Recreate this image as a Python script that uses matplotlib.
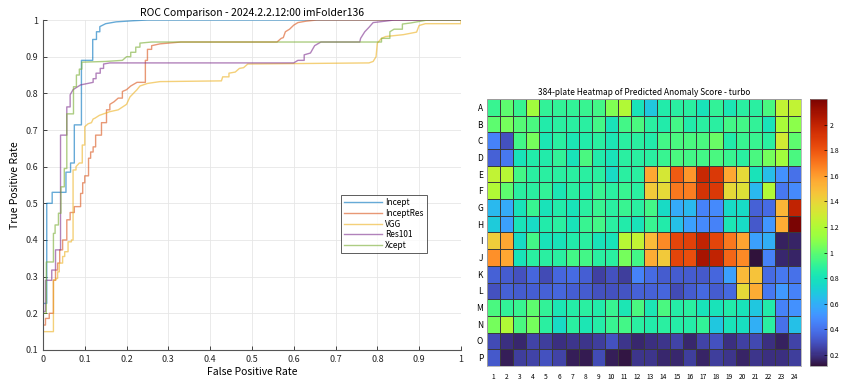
import numpy as np
import matplotlib.pyplot as plt

plt.rcParams['font.family'] = ['Noto Sans CJK JP', 'DejaVu Sans']

# ROC curves (fpr, tpr) per model
incept_fpr = [0, 0, 0.009, 0.009, 0.022, 0.022, 0.055, 0.055, 0.066, 0.066, 0.075, 0.075, 0.092, 0.092,
              0.11, 0.119, 0.119, 0.128, 0.128, 0.136, 0.136, 0.15, 0.175, 0.215, 0.25, 1]
incept_tpr = [0, 0.227, 0.227, 0.5, 0.5, 0.53, 0.53, 0.585, 0.585, 0.61, 0.61, 0.714, 0.714, 0.89,
              0.89, 0.89, 0.947, 0.947, 0.968, 0.968, 0.982, 0.99, 0.995, 0.998, 1, 1]

inceptres_fpr = [0, 0, 0.006, 0.006, 0.015, 0.015, 0.025, 0.025, 0.03, 0.03, 0.035, 0.035, 0.04, 0.04,
                 0.047, 0.047, 0.057, 0.057, 0.065, 0.065, 0.075, 0.075, 0.09, 0.09, 0.095, 0.095, 0.1, 0.1,
                 0.109, 0.109, 0.114, 0.114, 0.12, 0.12, 0.126, 0.126, 0.14, 0.14, 0.152, 0.152, 0.16, 0.16,
                 0.17, 0.18, 0.19, 0.19, 0.2, 0.21, 0.225, 0.245, 0.245, 0.25, 0.25, 0.26, 0.26, 0.28, 0.33,
                 0.56, 0.57, 0.575, 0.58, 0.59, 0.6, 0.61, 0.63, 0.655, 1]
inceptres_tpr = [0, 0.168, 0.168, 0.186, 0.186, 0.2, 0.2, 0.29, 0.29, 0.318, 0.318, 0.337, 0.337, 0.373,
                 0.373, 0.4, 0.4, 0.455, 0.455, 0.475, 0.475, 0.491, 0.491, 0.527, 0.527, 0.556, 0.556, 0.575,
                 0.575, 0.623, 0.623, 0.64, 0.64, 0.654, 0.654, 0.686, 0.686, 0.72, 0.72, 0.755, 0.755, 0.77,
                 0.777, 0.787, 0.787, 0.805, 0.81, 0.82, 0.83, 0.83, 0.89, 0.89, 0.92, 0.92, 0.93, 0.935, 0.94,
                 0.94, 0.95, 0.952, 0.968, 0.975, 0.986, 0.993, 0.997, 1, 1]

vgg_fpr = [0, 0, 0.025, 0.025, 0.031, 0.031, 0.035, 0.035, 0.039, 0.039, 0.047, 0.047, 0.052, 0.052,
           0.06, 0.06, 0.068, 0.068, 0.072, 0.072, 0.079, 0.079, 0.087, 0.094, 0.094, 0.1, 0.1, 0.108,
           0.116, 0.12, 0.124, 0.135, 0.16, 0.18, 0.2, 0.208, 0.225, 0.232, 0.25, 0.28, 0.427, 0.43,
           0.445, 0.445, 0.46, 0.47, 0.48, 0.49, 0.78, 0.79, 0.797, 0.8, 0.81, 0.82, 0.862, 0.894, 0.9,
           0.915, 1, 1]
vgg_tpr = [0, 0.15, 0.15, 0.291, 0.291, 0.295, 0.295, 0.313, 0.313, 0.337, 0.337, 0.355, 0.355, 0.368,
           0.368, 0.395, 0.395, 0.4, 0.4, 0.591, 0.591, 0.6, 0.61, 0.61, 0.659, 0.659, 0.709, 0.717,
           0.72, 0.73, 0.732, 0.74, 0.75, 0.755, 0.77, 0.79, 0.81, 0.82, 0.827, 0.832, 0.834, 0.845,
           0.845, 0.855, 0.858, 0.868, 0.87, 0.88, 0.883, 0.887, 0.9, 0.937, 0.95, 0.955, 0.96, 0.967, 0.985,
           0.99, 0.99, 1]

res101_fpr = [0, 0, 0.006, 0.006, 0.021, 0.021, 0.03, 0.03, 0.042, 0.042, 0.057, 0.057, 0.065, 0.065,
              0.072, 0.09, 0.103, 0.12, 0.12, 0.127, 0.127, 0.137, 0.137, 0.145, 0.145, 0.16, 0.6, 0.61,
              0.625, 0.625, 0.64, 0.65, 0.665, 0.758, 0.76, 0.77, 0.78, 0.79, 0.82, 0.84, 1]
res101_tpr = [0, 0.205, 0.205, 0.29, 0.29, 0.318, 0.318, 0.373, 0.373, 0.686, 0.686, 0.763, 0.763, 0.796,
              0.81, 0.823, 0.826, 0.83, 0.84, 0.84, 0.855, 0.855, 0.868, 0.868, 0.88, 0.883, 0.883, 0.89,
              0.89, 0.905, 0.91, 0.93, 0.94, 0.94, 0.95, 0.968, 0.98, 0.993, 0.997, 1, 1]

xcept_fpr = [0, 0, 0.008, 0.008, 0.025, 0.025, 0.029, 0.029, 0.037, 0.037, 0.043, 0.043, 0.051, 0.051,
             0.057, 0.057, 0.073, 0.073, 0.08, 0.08, 0.087, 0.087, 0.093, 0.093, 0.15, 0.19, 0.2, 0.21,
             0.21, 0.222, 0.222, 0.232, 0.232, 0.26, 0.81, 0.81, 0.83, 0.83, 0.84, 0.86, 0.86, 0.88, 0.9,
             0.92, 1]
xcept_tpr = [0, 0.2, 0.2, 0.34, 0.34, 0.418, 0.418, 0.441, 0.441, 0.473, 0.473, 0.545, 0.545, 0.595,
             0.595, 0.744, 0.744, 0.818, 0.818, 0.85, 0.85, 0.866, 0.866, 0.885, 0.887, 0.89, 0.9, 0.9,
             0.912, 0.912, 0.926, 0.926, 0.937, 0.94, 0.94, 0.95, 0.95, 0.968, 0.975, 0.975, 0.989, 0.992,
             0.996, 1, 1]

model_names = ['Incept', 'InceptRes', 'VGG', 'Res101', 'Xcept']

# predicted anomaly score per well, rows A-P, columns 1-24
row_labels = list('ABCDEFGHIJKLMNOP')
col_labels = [str(i) for i in range(1, 25)]
scores = np.array([
    [0.92, 1.00, 0.92, 1.15, 0.90, 0.90, 0.90, 0.92, 0.94, 1.07, 1.20, 0.80, 0.68, 0.85, 0.88, 0.88, 0.80, 0.90, 0.82, 0.88, 0.88, 0.96, 1.25, 1.25],
    [1.00, 1.05, 0.98, 0.96, 0.85, 0.88, 0.88, 0.88, 0.94, 0.80, 0.94, 0.96, 0.88, 0.85, 0.94, 0.85, 0.88, 0.88, 0.94, 0.94, 0.90, 0.80, 1.18, 1.10],
    [0.45, 0.30, 0.94, 1.05, 0.82, 0.88, 0.82, 0.85, 0.88, 0.82, 0.88, 0.88, 0.85, 0.94, 0.96, 0.96, 0.96, 1.02, 0.85, 0.92, 0.92, 0.88, 1.30, 1.00],
    [0.35, 0.42, 0.80, 0.85, 0.85, 0.90, 0.80, 0.96, 0.85, 0.80, 0.88, 0.88, 0.88, 0.92, 0.96, 0.94, 0.94, 0.96, 0.92, 0.88, 0.96, 1.05, 1.15, 0.96],
    [1.25, 1.22, 0.94, 0.88, 0.88, 0.88, 0.88, 0.88, 0.88, 0.76, 0.88, 0.88, 1.57, 1.32, 1.78, 1.62, 1.98, 1.90, 1.57, 1.38, 0.80, 0.65, 0.50, 0.40],
    [1.20, 1.00, 0.88, 0.88, 0.90, 0.82, 0.88, 0.85, 0.92, 0.88, 0.92, 0.88, 1.45, 1.38, 1.70, 1.68, 1.93, 1.90, 1.38, 1.35, 0.63, 1.20, 0.42, 0.48],
    [0.63, 0.58, 0.80, 0.92, 0.80, 0.85, 0.80, 0.88, 0.92, 0.88, 0.92, 0.88, 0.94, 0.76, 0.58, 0.63, 0.45, 0.48, 0.76, 0.76, 0.35, 0.38, 1.52, 2.00],
    [0.70, 0.55, 0.80, 0.76, 0.85, 0.88, 0.80, 0.92, 0.94, 0.88, 0.85, 0.80, 0.92, 0.85, 0.66, 0.55, 0.48, 0.45, 0.82, 0.76, 0.32, 0.52, 1.55, 2.20],
    [1.43, 1.57, 0.76, 0.94, 0.80, 0.80, 0.85, 0.88, 0.80, 0.80, 1.22, 1.25, 1.50, 1.65, 1.85, 1.87, 2.00, 1.85, 1.70, 1.58, 0.55, 0.60, 0.16, 0.17],
    [1.63, 1.57, 0.80, 0.88, 0.88, 0.88, 0.94, 0.94, 0.88, 0.88, 1.05, 0.94, 1.55, 1.45, 1.85, 1.82, 2.08, 2.00, 1.75, 1.65, 0.115, 0.45, 0.18, 0.17],
    [0.35, 0.33, 0.30, 0.36, 0.28, 0.36, 0.38, 0.34, 0.25, 0.30, 0.24, 0.45, 0.38, 0.33, 0.33, 0.33, 0.32, 0.36, 0.55, 1.50, 1.47, 0.38, 0.42, 0.40],
    [0.30, 0.35, 0.33, 0.34, 0.35, 0.36, 0.34, 0.33, 0.30, 0.30, 0.31, 0.35, 0.35, 0.36, 0.28, 0.33, 0.37, 0.33, 0.37, 1.38, 1.55, 0.42, 0.53, 0.45],
    [0.96, 0.90, 0.92, 1.00, 0.90, 0.82, 0.86, 0.88, 0.85, 0.92, 0.82, 0.96, 0.82, 0.96, 0.86, 0.88, 0.80, 0.80, 0.85, 0.80, 0.68, 0.85, 0.45, 0.50],
    [1.05, 1.20, 0.96, 1.05, 0.88, 0.76, 0.88, 0.82, 0.86, 0.92, 0.94, 0.88, 0.85, 0.88, 0.86, 0.86, 0.90, 0.68, 0.80, 0.78, 0.60, 0.88, 0.40, 0.66],
    [0.28, 0.20, 0.18, 0.26, 0.24, 0.20, 0.22, 0.22, 0.24, 0.30, 0.22, 0.18, 0.20, 0.22, 0.26, 0.18, 0.26, 0.30, 0.20, 0.25, 0.27, 0.20, 0.16, 0.26],
    [0.32, 0.15, 0.24, 0.26, 0.30, 0.26, 0.15, 0.14, 0.28, 0.15, 0.13, 0.22, 0.22, 0.18, 0.18, 0.24, 0.17, 0.24, 0.22, 0.17, 0.22, 0.20, 0.20, 0.24],
])

fig = plt.figure(figsize=(8.46, 3.85), dpi=100)

# --- ROC panel ---
ax = fig.add_axes([0.0508, 0.091, 0.494, 0.857])
colors = ['#0072BD', '#D95319', '#EDB120', '#7E2F8E', '#77AC30']
curves = [(incept_fpr, incept_tpr), (inceptres_fpr, inceptres_tpr), (vgg_fpr, vgg_tpr),
          (res101_fpr, res101_tpr), (xcept_fpr, xcept_tpr)]
for (f, t), c, name in zip(curves, colors, model_names):
    ax.plot(f, t, color=c, lw=1.0, alpha=0.6, label=name)

ax.set_xlim(0, 1)
ax.set_ylim(0.1, 1)
ax.set_xticks(np.arange(0, 1.01, 0.1))
ax.set_yticks(np.arange(0.1, 1.01, 0.1))
ax.set_xticklabels(['0'] + [f'{v:.1f}' for v in np.arange(0.1, 0.95, 0.1)] + ['1'])
ax.set_yticklabels([f'{v:.1f}' for v in np.arange(0.1, 0.95, 0.1)] + ['1'])
ax.tick_params(direction='in', length=3, labelsize=6.5, colors='#262626', width=0.6)
ax.grid(True, color='#e6e6e6', lw=0.6)
for s in ['top', 'right']:
    ax.spines[s].set_visible(False)
for s in ['left', 'bottom']:
    ax.spines[s].set_color('#555555')
    ax.spines[s].set_linewidth(0.8)
ax.set_xlabel('False Positive Rate', fontsize=7.5, labelpad=2)
ax.set_ylabel('True Positive Rate', fontsize=7.5, labelpad=4)
ax.set_title('ROC Comparison - 2024.2.2.12:00 imFolder136', fontsize=7.5, pad=3)
leg = ax.legend(loc='lower right', bbox_to_anchor=(0.928, 0.28), fontsize=6, frameon=True,
                fancybox=False, edgecolor='#333333', handlelength=4.5, borderpad=0.4,
                labelspacing=0.2, handletextpad=0.4)
leg.get_frame().set_linewidth(0.7)

# --- plate heatmap ---
hx = fig.add_axes([0.5757, 0.0494, 0.3711, 0.6935])
vmin, vmax = scores.min(), scores.max()
mesh = hx.pcolormesh(scores, cmap='turbo', vmin=vmin, vmax=vmax,
                     edgecolors='#3a3a3a', linewidth=0.5)
hx.set_xlim(0, 24)
hx.set_ylim(16, 0)
hx.set_xticks(np.arange(24) + 0.5)
hx.set_xticklabels(col_labels, fontsize=4.8)
hx.set_yticks(np.arange(16) + 0.5)
hx.set_yticklabels(row_labels, fontsize=6)
hx.tick_params(axis='y', length=0, pad=3)
hx.tick_params(axis='x', length=0, pad=5)
for s in hx.spines.values():
    s.set_color('#b0b0b0')
    s.set_linewidth(0.6)
hx.set_title('384-plate Heatmap of Predicted Anomaly Score - turbo', fontsize=6, pad=3)

cax = fig.add_axes([0.9574, 0.0494, 0.0201, 0.6935])
cb = fig.colorbar(mesh, cax=cax)
cb.set_ticks(np.arange(0.2, 2.01, 0.2))
cb.set_ticklabels([f'{v:.1f}'.rstrip('0').rstrip('.') for v in np.arange(0.2, 2.01, 0.2)])
cb.ax.tick_params(labelsize=5, direction='in', length=2, width=0.5, pad=2)
cb.outline.set_linewidth(0.5)
cb.outline.set_edgecolor('#888888')

fig.savefig('out.png', dpi=100)
